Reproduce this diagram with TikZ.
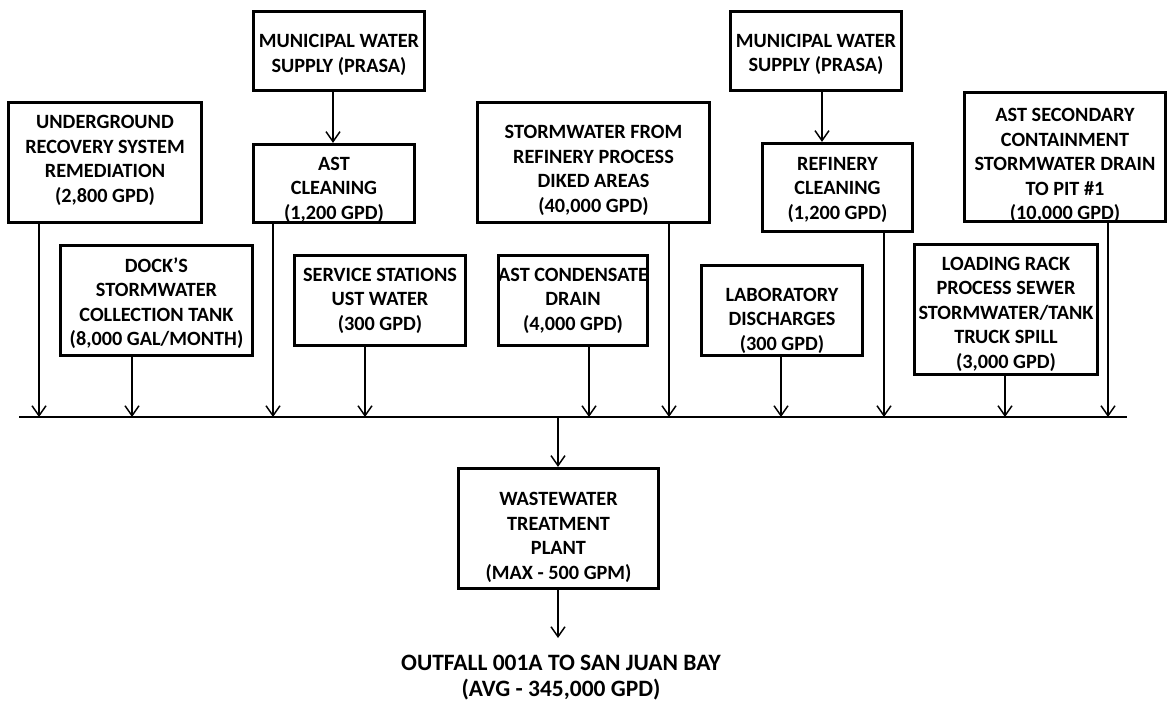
\documentclass[tikz,border=0pt]{standalone}
\usepackage{fontspec}
\setmainfont{Carlito}
\usetikzlibrary{arrows.meta}
\begin{document}
\begin{tikzpicture}[x=0.75pt,y=-0.75pt,
  box/.style={draw, line width=2.4pt, inner sep=0pt},
  lbl/.style={inner sep=0pt, align=center,
    font=\bfseries\fontsize{15.2}{18.4}\selectfont},
  arr/.style={line width=1.1pt, -{Straight Barb[length=7.5pt,width=10.5pt,line width=1.1pt]}},
  bus/.style={line width=1.2pt}]
\useasboundingbox (0,0) rectangle (1167,709);

% boxes
\node[box, minimum width=144.75pt, minimum height=90pt] (ug) at (105,162.5) {};
\node[box, minimum width=128.25pt, minimum height=59.25pt] (mun1) at (339,51) {};
\node[box, minimum width=120.75pt, minimum height=58.5pt] (astc) at (334,183.5) {};
\node[box, minimum width=144pt, minimum height=82.5pt] (dock) at (156.5,300.5) {};
\node[box, minimum width=128.25pt, minimum height=67.5pt] (serv) at (380,300.5) {};
\node[box, minimum width=111.75pt, minimum height=67.5pt] (cond) at (573,300.5) {};
\node[box, minimum width=174pt, minimum height=90pt] (storm) at (593.5,162.5) {};
\node[box, minimum width=128.25pt, minimum height=59.25pt] (mun2) at (816,51) {};
\node[box, minimum width=112.5pt, minimum height=66pt] (refc) at (837.5,187.5) {};
\node[box, minimum width=120.75pt, minimum height=67.5pt] (lab) at (782,310.5) {};
\node[box, minimum width=150.75pt, minimum height=96.75pt] (astsec) at (1065,157) {};
\node[box, minimum width=137.25pt, minimum height=97.5pt] (load) at (1006,309.5) {};
\node[box, minimum width=150pt, minimum height=90pt] (wwtp) at (558.5,528.5) {};

% texts
\node[lbl] (ugt) at (105,160.5) {UNDERGROUND\\RECOVERY SYSTEM\\REMEDIATION\\(2,800 GPD)};
\node[lbl] (mun1t) at (339,55) {MUNICIPAL WATER\\SUPPLY (PRASA)};
\node[lbl] (astct) at (334,189.5) {AST\\CLEANING\\(1,200 GPD)};
\node[lbl] (dockt) at (156.5,303) {DOCK'S\\STORMWATER\\COLLECTION TANK\\(8,000 GAL/MONTH)};
\node[lbl] (servt) at (380,300.5) {SERVICE STATIONS\\UST WATER\\(300 GPD)};
\node[lbl] (condt) at (573,300.5) {AST CONDENSATE\\DRAIN\\(4,000 GPD)};
\node[lbl] (stormt) at (593.5,170.5) {STORMWATER FROM\\REFINERY PROCESS\\DIKED AREAS\\(40,000 GPD)};
\node[lbl] (mun2t) at (816,54.5) {MUNICIPAL WATER\\SUPPLY (PRASA)};
\node[lbl] (refct) at (837.5,189.5) {REFINERY\\CLEANING\\(1,200 GPD)};
\node[lbl] (labt) at (782,320.5) {LABORATORY\\DISCHARGES\\(300 GPD)};
\node[lbl] (astsect) at (1065,165.5) {AST SECONDARY\\CONTAINMENT\\STORMWATER DRAIN\\TO PIT \#1\\(10,000 GPD)};
\node[lbl] (loadt) at (1006,314) {LOADING RACK\\PROCESS SEWER\\STORMWATER/TANK\\TRUCK SPILL\\(3,000 GPD)};
\node[lbl] (wwtpt) at (558.5,537.5) {WASTEWATER\\TREATMENT\\PLANT\\(MAX - 500 GPM)};

\node[align=center, inner sep=0pt, font=\bfseries\fontsize{17.6}{19.5}\selectfont] (out) at (561,677.5)
  {OUTFALL 001A TO SAN JUAN BAY\\(AVG - 345,000 GPD)};

% bus
\coordinate (busL) at (19,417);
\coordinate (busR) at (1127,417);
\draw[bus] (busL) -- (busR);

\coordinate (b1) at (39,417);
\coordinate (b2) at (132,417);
\coordinate (b3) at (273,417);
\coordinate (b4) at (365,417);
\coordinate (b5) at (589,417);
\coordinate (b6) at (669,417);
\coordinate (b7) at (781,417);
\coordinate (b8) at (884,417);
\coordinate (b9) at (1005,417);
\coordinate (b10) at (1108,417);
\coordinate (bc) at (558,417);
\coordinate (m1x) at (333,0);
\coordinate (m2x) at (822,0);
\coordinate (outin) at (558,638);

\draw[arr] (ug.south -| b1) -- (b1);
\draw[arr] (dock.south -| b2) -- (b2);
\draw[arr] (astc.south -| b3) -- (b3);
\draw[arr] (serv.south -| b4) -- (b4);
\draw[arr] (cond.south -| b5) -- (b5);
\draw[arr] (storm.south -| b6) -- (b6);
\draw[arr] (lab.south -| b7) -- (b7);
\draw[arr] (refc.south -| b8) -- (b8);
\draw[arr] (load.south -| b9) -- (b9);
\draw[arr] (astsec.south -| b10) -- (b10);

\draw[arr] (mun1.south -| m1x) -- (astc.north -| m1x);
\draw[arr] (mun2.south -| m2x) -- (refc.north -| m2x);

\draw[arr] (bc) -- (wwtp.north -| bc);
\draw[arr] (wwtp.south -| bc) -- (outin);
\end{tikzpicture}
\end{document}
